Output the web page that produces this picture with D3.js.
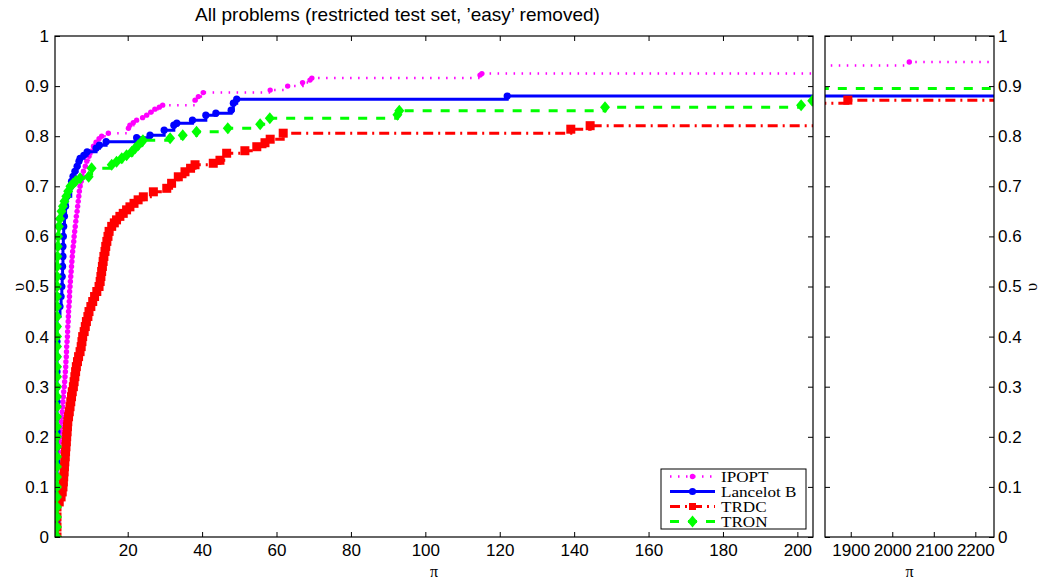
<!DOCTYPE html>
<html>
<head>
<meta charset="utf-8">
<script src="https://cdn.jsdelivr.net/npm/d3@7"></script>
<style>
  body { margin: 0; background: #fff; }
  svg { display: block; }
  text { font-family: "Liberation Sans", Arial, sans-serif; }
</style>
</head>
<body>
<svg id="drawing_region"></svg>
<script>
// performance profile points [tau, rho]
const ipopt = [[1,0],[1,0.02],[1,0.04],[1,0.06],[1,0.08],[1,0.10],[1,0.12],[1,0.14],[1,0.16],
  [1.4,0.17],[1.6,0.18],[1.8,0.19],[1.9,0.20],[2.0,0.21],[2.1,0.22],[2.2,0.23],[2.3,0.24],[2.4,0.25],
  [2.5,0.26],[2.6,0.27],[2.7,0.28],[2.8,0.29],[2.95,0.30],[3.05,0.31],[3.15,0.32],[3.25,0.33],
  [3.35,0.34],[3.4,0.35],[3.5,0.36],[3.55,0.37],[3.6,0.38],[3.7,0.39],[3.8,0.40],[3.85,0.41],
  [3.9,0.42],[4.0,0.43],[4.05,0.44],[4.1,0.45],[4.2,0.46],[4.3,0.47],[4.35,0.48],[4.4,0.49],
  [4.5,0.50],[4.6,0.51],[4.7,0.52],[4.8,0.53],[4.9,0.54],[5.0,0.55],[5.1,0.56],[5.2,0.57],
  [5.35,0.58],[5.5,0.59],[5.6,0.60],[5.75,0.61],[5.9,0.62],[6.05,0.63],[6.2,0.64],[6.4,0.65],
  [6.55,0.66],[6.7,0.67],[6.85,0.68],[7.0,0.69],[7.2,0.70],[7.5,0.71],[7.8,0.72],[8.1,0.73],
  [8.6,0.74],[9.0,0.75],[9.6,0.76],[10.2,0.77],[10.8,0.78],[11.5,0.788],[12.3,0.795],[13.0,0.80],
  [14.8,0.806],[20.2,0.816],[20.6,0.822],[21.5,0.827],[22.4,0.832],[24.0,0.837],[25.1,0.842],
  [26.2,0.848],[27.3,0.854],[28.5,0.858],[29.4,0.862],[38.1,0.872],[39.0,0.879],[40.3,0.887],
  [58.3,0.892],[63.0,0.90],[67.0,0.907],[69.0,0.912],[69.5,0.916],[114.7,0.922],[115.2,0.925],
  [1000,0.941],[2041,0.948],[2300,0.948]];

const lancelot = [[1,0],[1,0.03],[1,0.06],[1,0.09],[1,0.12],[1,0.15],[1,0.18],[1,0.21],[1,0.24],
  [1,0.27],[1,0.30],[1,0.33],[1,0.36],[1,0.39],[1,0.42],[1,0.44],[1.8,0.46],[2.1,0.48],[2.3,0.50],
  [2.4,0.52],[2.5,0.54],[2.6,0.56],[2.6,0.58],[2.7,0.60],[2.8,0.62],[3.0,0.64],[3.3,0.66],[3.7,0.68],
  [4.7,0.70],[4.9,0.71],[5.3,0.72],[5.8,0.73],[6.4,0.74],[6.9,0.75],[7.2,0.756],[8.2,0.762],
  [9.1,0.769],[11.5,0.776],[12.4,0.782],[14.2,0.789],[22.4,0.797],[26.0,0.802],[29.8,0.812],
  [32.4,0.822],[33.2,0.826],[37.4,0.832],[41.0,0.842],[43.7,0.846],[47.8,0.852],[48.4,0.866],
  [49.3,0.874],[122,0.880],[2300,0.880]];

const trdc = [[1,0],[1,0.02],[1,0.04],[1,0.06],[1.6,0.07],[2.1,0.08],[2.4,0.09],[2.6,0.10],[2.7,0.11],
  [2.8,0.12],[2.9,0.13],[3.0,0.14],[3.1,0.15],[3.2,0.16],[3.3,0.17],[3.4,0.18],[3.5,0.19],[3.6,0.20],
  [3.7,0.21],[3.8,0.22],[3.9,0.23],[4.1,0.24],[4.3,0.25],[4.5,0.26],[4.7,0.27],[4.9,0.28],[5.1,0.29],
  [5.4,0.30],[5.6,0.31],[5.8,0.32],[6.0,0.33],[6.2,0.34],[6.5,0.35],[6.8,0.36],[7.2,0.37],[7.5,0.38],
  [7.7,0.39],[7.9,0.40],[8.3,0.41],[8.6,0.42],[8.9,0.43],[9.3,0.44],[9.6,0.45],[10.1,0.46],[10.6,0.47],
  [11.1,0.48],[11.7,0.49],[12.3,0.50],[12.6,0.51],[12.8,0.52],[13.0,0.53],[13.2,0.54],[13.4,0.55],
  [13.6,0.56],[13.9,0.57],[14.1,0.58],[14.4,0.59],[14.7,0.60],[15.0,0.61],[15.7,0.62],[16.4,0.627],
  [17.0,0.633],[17.9,0.64],[18.8,0.646],[19.7,0.653],[20.6,0.659],[21.7,0.666],[22.8,0.673],
  [24.2,0.679],[26.9,0.689],[30.5,0.696],[31.8,0.706],[33.6,0.719],[35.4,0.729],[36.9,0.736],
  [38.1,0.743],[43.0,0.746],[44.8,0.752],[46.6,0.766],[51.5,0.771],[54.7,0.779],[56.9,0.787],
  [58.3,0.794],[61.8,0.806],[139.1,0.814],[144.3,0.821],[1000,0.866],[1893,0.872],[2300,0.872]];

const tron = [[1,0],[1,0.02],[1,0.04],[1,0.06],[1,0.08],[1,0.10],[1,0.12],[1,0.14],[1,0.16],[1,0.18],
  [1,0.20],[1,0.22],[1,0.24],[1,0.26],[1,0.28],[1,0.30],[1,0.32],[1,0.34],[1,0.36],[1,0.38],[1,0.40],
  [1,0.42],[1,0.44],[1,0.46],[1,0.48],[1,0.50],[1,0.52],[1,0.54],[1.1,0.56],[1.2,0.58],[1.3,0.60],
  [1.5,0.62],[1.8,0.635],[2.2,0.65],[2.6,0.66],[3.0,0.67],[3.5,0.68],[4.0,0.69],[4.6,0.70],[5.3,0.705],
  [6.0,0.71],[7.2,0.716],[9.5,0.719],[10.3,0.736],[15.7,0.743],[17.0,0.749],[18.4,0.756],[19.7,0.762],
  [21.1,0.769],[22.0,0.776],[22.8,0.782],[23.8,0.789],[24.1,0.792],[31.4,0.796],[34.8,0.802],
  [38.5,0.809],[46.9,0.816],[55.6,0.824],[58.2,0.836],[92.5,0.843],[93.0,0.851],[148.3,0.858],
  [201,0.862],[204,0.871],[1000,0.895],[2300,0.895]];

const solverNames = ['IPOPT', 'Lancelot B', 'TRDC', 'TRON'];
const solverData = [ipopt, lancelot, trdc, tron];

const yTicks = [0, 0.1, 0.2, 0.3, 0.4, 0.5, 0.6, 0.7, 0.8, 0.9, 1];
const xTicksLeft = [20, 40, 60, 80, 100, 120, 140, 160, 180, 200];
const xTicksRight = [1900, 2000, 2100, 2200];

const styles = [
  { color: '#ff00ff', width: 2.5, dash: '1.5,6.5', marker: 'dot', size: 2.7 },
  { color: '#0000ff', width: 3, dash: null, marker: 'dot', size: 3.6 },
  { color: '#ff0000', width: 3, dash: '10,5,2,5', marker: 'square', size: 9 },
  { color: '#00ff00', width: 3, dash: '9,9', marker: 'diamond', size: 10 }
];

const W = 1046, H = 579;
const svg = d3.select('#drawing_region').attr('width', W).attr('height', H);

const yscale = d3.scaleLinear().domain([0, 1]).range([537, 36]);

const panels = [
  { id: 'left', x0: 55, x1: 813, domain: [0.46, 204.2], ticks: xTicksLeft, labelsRight: false },
  { id: 'right', x0: 825, x1: 994, domain: [1838, 2245], ticks: xTicksRight, labelsRight: true }
];

const yfmt = d => +d.toFixed(1);

function drawMarkers(g, pts, s) {
  if (s.marker === 'dot') {
    g.selectAll('circle').data(pts).join('circle')
      .attr('cx', d => d[0]).attr('cy', d => d[1]).attr('r', s.size)
      .attr('fill', s.color);
  } else if (s.marker === 'square') {
    g.selectAll('rect').data(pts).join('rect')
      .attr('x', d => d[0] - s.size / 2).attr('y', d => d[1] - s.size / 2)
      .attr('width', s.size).attr('height', s.size)
      .attr('fill', s.color);
  } else {
    const w = s.size / 2, h = s.size * 0.6;
    g.selectAll('path.mk').data(pts).join('path').attr('class', 'mk')
      .attr('d', d => `M${d[0]},${d[1] - h}L${d[0] + w},${d[1]}L${d[0]},${d[1] + h}L${d[0] - w},${d[1]}Z`)
      .attr('fill', s.color);
  }
}

panels.forEach(p => {
  const xscale = d3.scaleLinear().domain(p.domain).range([p.x0, p.x1]);
  const top = yscale(1), bottom = yscale(0);

  svg.append('clipPath').attr('id', 'clip-' + p.id)
    .append('rect')
    .attr('x', p.x0).attr('y', top)
    .attr('width', p.x1 - p.x0).attr('height', bottom - top);

  const plot = svg.append('g').attr('clip-path', `url(#clip-${p.id})`);

  const line = d3.line()
    .x(d => xscale(d[0]))
    .y(d => yscale(d[1]))
    .curve(d3.curveStepAfter);

  solverData.forEach((data, i) => {
    const s = styles[i];
    const g = plot.append('g');
    g.append('path')
      .attr('d', line(data))
      .attr('fill', 'none')
      .attr('stroke', s.color)
      .attr('stroke-width', s.width)
      .attr('stroke-dasharray', s.dash);
    drawMarkers(g, data.map(d => [xscale(d[0]), yscale(d[1])]), s);
  });

  // axes, ticks pointing inwards like the original
  const xb = d3.axisBottom(xscale).tickValues(p.ticks).tickSize(-5).tickPadding(7).tickFormat(d3.format('d'));
  const xt = d3.axisTop(xscale).tickValues(p.ticks).tickSize(-5).tickFormat('');
  const yl = d3.axisLeft(yscale).tickValues(yTicks).tickSize(-5).tickPadding(6).tickFormat(yfmt);
  const yr = d3.axisRight(yscale).tickValues(yTicks).tickSize(-5).tickPadding(4).tickFormat(yfmt);
  if (p.labelsRight) yl.tickFormat(''); else yr.tickFormat('');

  const axes = [
    [xb, `translate(0,${bottom})`],
    [xt, `translate(0,${top})`],
    [yl, `translate(${p.x0},0)`],
    [yr, `translate(${p.x1},0)`]
  ];
  axes.forEach(([ax, tr]) => {
    const g = svg.append('g').attr('transform', tr).call(ax);
    g.select('.domain').remove();
    g.selectAll('line').attr('stroke', '#000');
    g.selectAll('text').attr('fill', '#000').style('font-size', '17px');
  });

  svg.append('rect')
    .attr('x', p.x0).attr('y', top)
    .attr('width', p.x1 - p.x0).attr('height', bottom - top)
    .attr('fill', 'none').attr('stroke', '#000').attr('stroke-width', 1.2);

  svg.append('text')
    .attr('x', (p.x0 + p.x1) / 2).attr('y', 577)
    .attr('text-anchor', 'middle')
    .style('font-family', '"Liberation Serif", serif')
    .style('font-size', '16px')
    .text('π');
});

// y labels
[18, 1031].forEach(x => {
  svg.append('text')
    .attr('transform', `translate(${x},287) rotate(-90)`)
    .attr('text-anchor', 'middle')
    .attr('dy', '0.35em')
    .style('font-family', '"Liberation Serif", serif')
    .style('font-size', '17px')
    .text('υ');
});

// title
svg.append('text')
  .attr('x', 397.5).attr('y', 21)
  .attr('text-anchor', 'middle')
  .style('font-size', '19px')
  .text('All problems (restricted test set, ’easy’ removed)');

// legend
const legend = svg.append('g');
legend.append('rect')
  .attr('x', 661).attr('y', 469).attr('width', 145).attr('height', 60)
  .attr('fill', '#fff').attr('stroke', '#000').attr('stroke-width', 1);

solverNames.forEach((name, i) => {
  const s = styles[i];
  const y = 476.5 + i * 15;
  const g = legend.append('g');
  g.append('line')
    .attr('x1', 670).attr('x2', 715).attr('y1', y).attr('y2', y)
    .attr('stroke', s.color).attr('stroke-width', s.width)
    .attr('stroke-dasharray', s.dash);
  drawMarkers(g, [[692.5, y]], i === 2 ? { ...s, size: 7 } : s);
  // the original serif legend text is a little wide for its height
  g.append('text')
    .attr('transform', `translate(721,${y}) scale(1.18,1)`)
    .attr('dy', '0.35em')
    .style('font-family', '"Liberation Serif", serif')
    .style('font-size', '14.5px')
    .text(name);
});
</script>
</body>
</html>
